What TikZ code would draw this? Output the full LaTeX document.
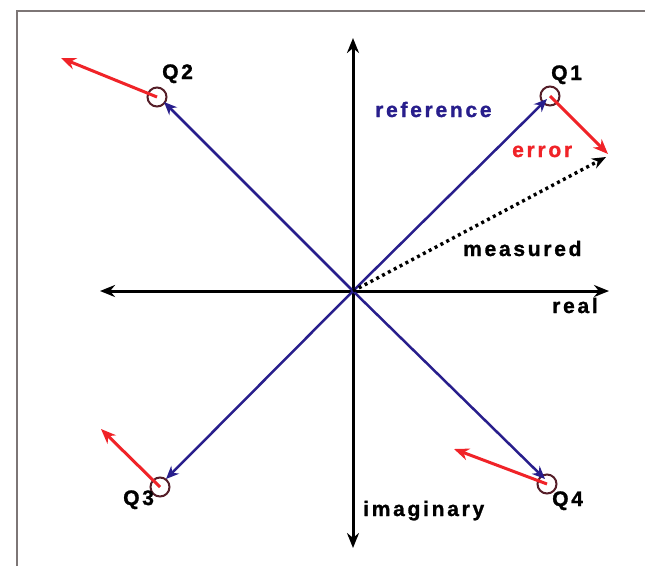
\documentclass[tikz,border=0pt]{standalone}
\usepackage{fontspec}
\setmainfont{Liberation Sans}[LetterSpace=13,BoldFeatures={FakeBold=1.2}]
\usetikzlibrary{arrows.meta}
\definecolor{frame}{RGB}{125,118,118}
\definecolor{refblue}{RGB}{40,30,140}
\definecolor{errred}{RGB}{240,35,40}
\definecolor{ringc}{RGB}{85,30,40}
\begin{document}
\begin{tikzpicture}[x=1pt,y=-1pt,
  lbl/.style={inner sep=0pt,anchor=base west,font=\fontsize{21}{23}\selectfont\bfseries},
  axis/.style={line width=3pt,black,{Stealth[length=15pt,width=12pt]}-{Stealth[length=15pt,width=12pt]}},
  refarrow/.style={line width=2.5pt,refblue,-{Stealth[length=13pt,width=11pt]}},
  errarrow/.style={line width=3pt,errred,-{Stealth[length=15pt,width=12pt]}},
  measarrow/.style={line width=3.4pt,black,dash pattern=on 3pt off 3.6pt,-{Stealth[length=14pt,width=11pt]}},
  ring/.style={circle,draw=ringc,line width=2pt,minimum size=19pt,inner sep=0pt}]
\useasboundingbox (0,0) rectangle (645,566);
\fill[white] (0,0) rectangle (645,566);
\draw[frame,line width=1.8pt] (17,566) -- (17,11) -- (645,11);
% axes
\coordinate (O) at (353,291);
\coordinate (top) at (353,38);
\coordinate (bot) at (353,548);
\coordinate (left) at (100,291);
\coordinate (right) at (609,291);
\draw[axis] (bot) -- (top);
\draw[axis] (left) -- (right);
% rings
\node[ring] (R1) at (550,96) {};
\node[ring] (R2) at (157,97) {};
\node[ring] (R3) at (160,487) {};
\node[ring] (R4) at (547,484) {};
% reference arrows
\coordinate (T1) at (547,99);
\coordinate (T2) at (164,102);
\coordinate (T3) at (166,479);
\coordinate (T4) at (545,479);
\draw[refarrow] (O) -- (T1);
\draw[refarrow] (O) -- (T2);
\draw[refarrow] (O) -- (T3);
\draw[refarrow] (O) -- (T4);
% error arrows
\coordinate (E1) at (608,154);
\coordinate (E2) at (61,58);
\coordinate (E3) at (101,429);
\coordinate (E4) at (454,449);
\draw[errarrow] (R1.center) -- (E1);
\draw[errarrow] (R2.center) -- (E2);
\draw[errarrow] (R3.center) -- (E3);
\draw[errarrow] (R4.center) -- (E4);
% measured
\coordinate (M) at (606,157);
\draw[measarrow] (O) -- (M);
% labels
\node[lbl] (q1) at (551,80) {Q1};
\node[lbl] (q2) at (162,79) {Q2};
\node[lbl] (q3) at (123,505) {Q3};
\node[lbl] (q4) at (552,506) {Q4};
\node[lbl,text=refblue] (ref) at (375,117) {reference};
\node[lbl,text=errred] (err) at (512,157) {error};
\node[lbl] (meas) at (463,256) {measured};
\node[lbl] (real) at (552,313) {real};
\node[lbl] (imag) at (363,516) {imaginary};
\end{tikzpicture}
\end{document}
